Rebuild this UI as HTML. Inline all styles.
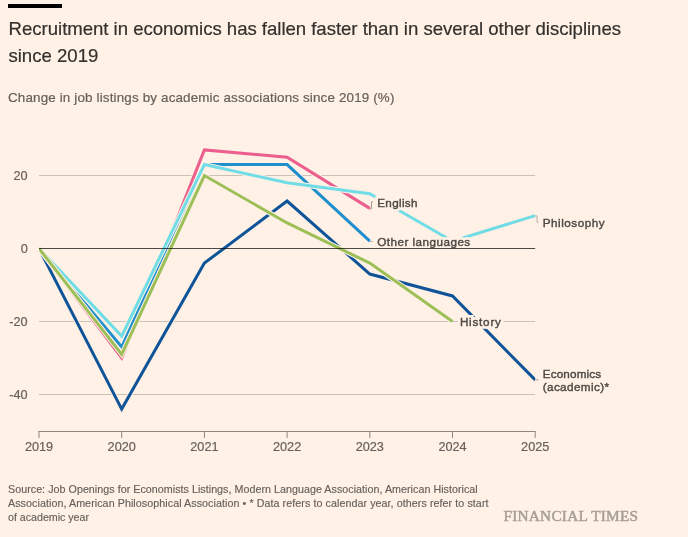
<!DOCTYPE html>
<html lang="en"><head><meta charset="utf-8"><title>Recruitment in economics</title>
<style>
html,body{margin:0;padding:0;background:#fff1e5;}
body{width:688px;height:537px;overflow:hidden;}
svg{display:block;will-change:transform;font-family:"Liberation Sans",Arial,sans-serif;}
.title{font-size:18.6px;fill:#33302e;stroke:#33302e;stroke-width:0.2px;}
.sub{font-size:13.4px;fill:#66605c;stroke:#66605c;stroke-width:0.2px;}
.tick{font-size:12.7px;fill:#66605c;stroke:#66605c;stroke-width:0.2px;}
.lab{font-size:11.7px;fill:#4d4845;stroke:#4d4845;stroke-width:0.4px;}
.halo{font-size:11.7px;fill:#fff1e5;stroke:#fff1e5;stroke-width:5.8px;stroke-linejoin:miter;stroke-miterlimit:3;}
.foot{font-size:10.7px;fill:#66605c;stroke:#66605c;stroke-width:0.15px;}
.ft{font-family:"Liberation Serif","Times New Roman",serif;font-size:15.3px;font-weight:normal;fill:#a69e97;stroke:#a69e97;stroke-width:0.5px;}
.lh{fill:none;stroke:#fff1e5;stroke-width:5;stroke-linejoin:miter;}
.dl{fill:none;stroke-width:3;stroke-linejoin:miter;stroke-linecap:butt;}
</style></head><body>
<svg width="688" height="537" viewBox="0 0 688 537">
<rect width="688" height="537" fill="#fff1e5"/>
<rect x="8" y="4" width="54" height="4" fill="#000"/>
<text class="title" x="8.6" y="35" textLength="612.4" lengthAdjust="spacing">Recruitment in economics has fallen faster than in several other disciplines</text>
<text class="title" x="8.4" y="62">since 2019</text>
<text class="sub" x="8" y="102" textLength="386.4" lengthAdjust="spacing">Change in job listings by academic associations since 2019 (%)</text>
<defs><clipPath id="cp"><rect x="39" y="120" width="496.3" height="310"/></clipPath></defs>
<line x1="39.00" x2="535.20" y1="175.50" y2="175.50" stroke="#ccc1b7" stroke-width="1"/>
<line x1="39.00" x2="535.20" y1="321.50" y2="321.50" stroke="#ccc1b7" stroke-width="1"/>
<line x1="39.00" x2="535.20" y1="394.50" y2="394.50" stroke="#ccc1b7" stroke-width="1"/>
<g clip-path="url(#cp)">
<path class="lh" d="M39.00,248.50 L121.70,409.10 L204.40,263.10 L287.10,201.05 L369.80,274.05 L452.50,295.95 L535.20,379.90"/>
<path class="dl" d="M39.00,248.50 L121.70,409.10 L204.40,263.10 L287.10,201.05 L369.80,274.05 L452.50,295.95 L535.20,379.90" stroke="#0f5499"/>
<path class="lh" d="M39.00,248.50 L121.70,358.00 L204.40,149.95 L287.10,157.25 L369.80,208.35"/>
<path class="dl" d="M39.00,248.50 L121.70,358.00 L204.40,149.95 L287.10,157.25 L369.80,208.35" stroke="#eb5e8d"/>
<path class="lh" d="M39.00,248.50 L121.70,347.05 L204.40,164.55 L287.10,164.55 L369.80,241.20"/>
<path class="dl" d="M39.00,248.50 L121.70,347.05 L204.40,164.55 L287.10,164.55 L369.80,241.20" stroke="#208fce"/>
<path class="lh" d="M39.00,248.50 L121.70,336.10 L204.40,164.55 L287.10,182.80 L369.80,193.75 L452.50,241.20 L535.20,215.65"/>
<path class="dl" d="M39.00,248.50 L121.70,336.10 L204.40,164.55 L287.10,182.80 L369.80,193.75 L452.50,241.20 L535.20,215.65" stroke="#70dce6"/>
<path class="lh" d="M39.00,248.50 L121.70,354.35 L204.40,175.50 L287.10,222.95 L369.80,263.10 L452.50,321.50"/>
<path class="dl" d="M39.00,248.50 L121.70,354.35 L204.40,175.50 L287.10,222.95 L369.80,263.10 L452.50,321.50" stroke="#9dbf57"/>
</g>
<text class="tick" x="27.7" y="180.10" text-anchor="end">20</text>
<text class="tick" x="27.7" y="253.10" text-anchor="end">0</text>
<text class="tick" x="27.7" y="326.10" text-anchor="end">-20</text>
<text class="tick" x="27.7" y="399.10" text-anchor="end">-40</text>
<path d="M38.50,431.50 H535.70" stroke="#8e8781" stroke-width="1" fill="none"/>
<line x1="39.00" x2="39.00" y1="431.50" y2="438.00" stroke="#8e8781" stroke-width="1"/>
<text class="tick" x="39.00" y="450.8" text-anchor="middle">2019</text>
<line x1="121.70" x2="121.70" y1="431.50" y2="438.00" stroke="#8e8781" stroke-width="1"/>
<text class="tick" x="121.70" y="450.8" text-anchor="middle">2020</text>
<line x1="204.40" x2="204.40" y1="431.50" y2="438.00" stroke="#8e8781" stroke-width="1"/>
<text class="tick" x="204.40" y="450.8" text-anchor="middle">2021</text>
<line x1="287.10" x2="287.10" y1="431.50" y2="438.00" stroke="#8e8781" stroke-width="1"/>
<text class="tick" x="287.10" y="450.8" text-anchor="middle">2022</text>
<line x1="369.80" x2="369.80" y1="431.50" y2="438.00" stroke="#8e8781" stroke-width="1"/>
<text class="tick" x="369.80" y="450.8" text-anchor="middle">2023</text>
<line x1="452.50" x2="452.50" y1="431.50" y2="438.00" stroke="#8e8781" stroke-width="1"/>
<text class="tick" x="452.50" y="450.8" text-anchor="middle">2024</text>
<line x1="535.20" x2="535.20" y1="431.50" y2="438.00" stroke="#8e8781" stroke-width="1"/>
<text class="tick" x="535.20" y="450.8" text-anchor="middle">2025</text>
<path d="M369.80,208.85 H371.5 V201.8 H372.8" stroke="#a39d97" stroke-width="1" fill="none"/>
<path d="M369.80,241.50 H372.8" stroke="#b8b1ab" stroke-width="1" fill="none"/>
<path d="M535.20,215.85 H537 V222.3 H538.6" stroke="#b9b1aa" stroke-width="1" fill="none"/>
<path d="M452.50,321.50 H457" stroke="#c9c1b9" stroke-width="1" fill="none"/>
<path d="M535.20,379.90 H538.6" stroke="#aaa29b" stroke-width="1" fill="none"/>
<text class="halo" x="377.2" y="207.0" textLength="40.3" lengthAdjust="spacing">English</text>
<text class="halo" x="377.2" y="245.7" textLength="93.0" lengthAdjust="spacing">Other languages</text>
<text class="halo" x="542.7" y="226.9" textLength="61.9" lengthAdjust="spacing">Philosophy</text>
<text class="halo" x="459.9" y="325.8" textLength="41.0" lengthAdjust="spacing">History</text>
<text class="halo" x="542.7" y="377.7" textLength="58.5" lengthAdjust="spacing">Economics</text>
<text class="halo" x="542.7" y="390.8" textLength="66.3" lengthAdjust="spacing">(academic)*</text>
<text class="lab" x="377.2" y="207.0" textLength="40.3" lengthAdjust="spacing">English</text>
<text class="lab" x="377.2" y="245.7" textLength="93.0" lengthAdjust="spacing">Other languages</text>
<text class="lab" x="542.7" y="226.9" textLength="61.9" lengthAdjust="spacing">Philosophy</text>
<text class="lab" x="459.9" y="325.8" textLength="41.0" lengthAdjust="spacing">History</text>
<text class="lab" x="542.7" y="377.7" textLength="58.5" lengthAdjust="spacing">Economics</text>
<text class="lab" x="542.7" y="390.8" textLength="66.3" lengthAdjust="spacing">(academic)*</text>
<line x1="39.00" x2="535.20" y1="248.50" y2="248.50" stroke="#000" stroke-opacity="0.7" stroke-width="1"/>
<text class="foot" x="8" y="492.8" textLength="469.7" lengthAdjust="spacing">Source: Job Openings for Economists Listings, Modern Language Association, American Historical</text>
<text class="foot" x="8" y="506.8" textLength="480.5" lengthAdjust="spacing">Association, American Philosophical Association • * Data refers to calendar year, others refer to start</text>
<text class="foot" x="8" y="520.8" textLength="81" lengthAdjust="spacing">of academic year</text>
<text class="ft" x="503.5" y="520.5" textLength="134.5" lengthAdjust="spacing">FINANCIAL TIMES</text>
</svg></body></html>
